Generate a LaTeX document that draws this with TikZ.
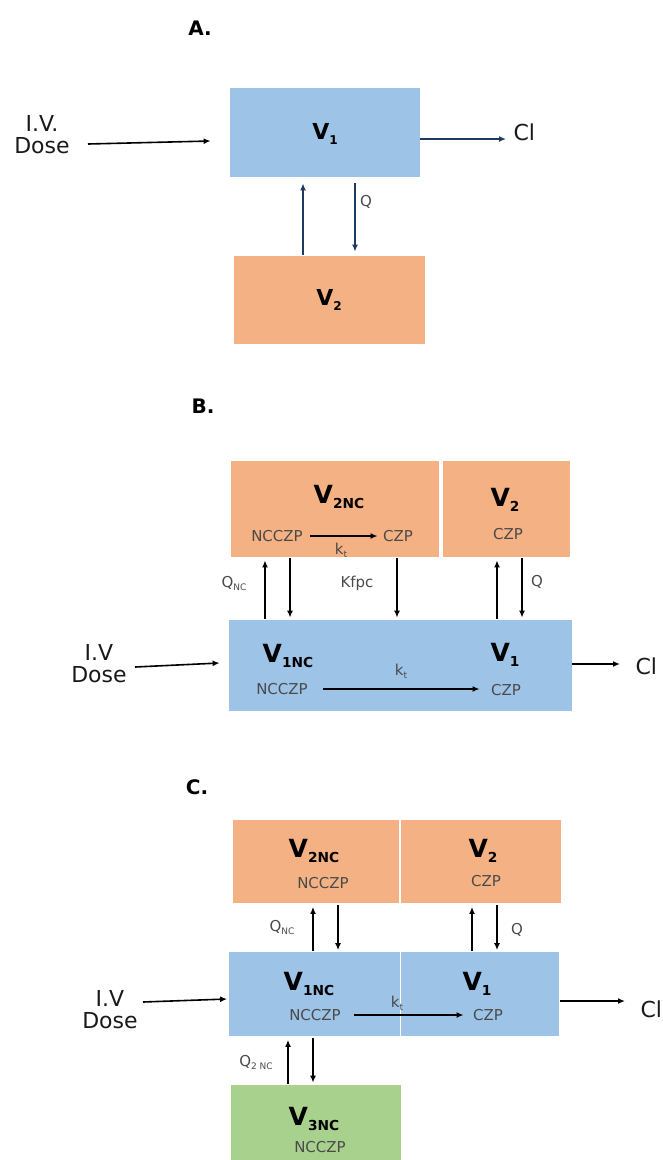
\documentclass[tikz,border=0pt]{standalone}
\usepackage{fontspec}
\setmainfont{DejaVu Sans}
\usetikzlibrary{arrows.meta}
\definecolor{boxblue}{HTML}{9DC3E6}
\definecolor{boxorange}{HTML}{F4B183}
\definecolor{boxgreen}{HTML}{A9D18E}
\definecolor{navy}{HTML}{203864}
\definecolor{inkgray}{HTML}{4A4A4A}
% volume label: bold V with a lowered small index
\newcommand{\vol}[2]{{\fontsize{#1}{#1}\selectfont\bfseries V\raisebox{-0.2em}{\scalebox{0.55}{#2}}}}
\newcommand{\subidx}[1]{\raisebox{-0.2em}{\scalebox{0.6}{#1}}}
\begin{document}
\begin{tikzpicture}[x=1pt,y=-1pt,
  compartment/.style={draw=white,line width=0.8pt,inner sep=0pt},
  panel/.style={font=\fontsize{20}{20}\selectfont\bfseries},
  bigtxt/.style={font=\fontsize{22}{24}\selectfont,text=black!90,align=center},
  smalltxt/.style={font=\fontsize{15}{15}\selectfont,text=inkgray},
  ratetxt/.style={font=\fontsize{15}{15}\selectfont,text=inkgray},
  arrblue/.style={draw=navy,line width=1.6pt,-{Latex[length=7pt,width=6pt]}},
  arrblack/.style={draw=black,line width=1.6pt,-{Latex[length=7pt,width=6pt]}},
]
\useasboundingbox (0,0) rectangle (662,1160);

% ---------------- A: two-compartment model ----------------
\node[panel] (la) at (200,28) {A.};
\node[compartment,fill=boxblue,minimum width=191pt,minimum height=90pt] (a1) at (324.5,132) {};
\node[compartment,fill=boxorange,minimum width=192pt,minimum height=89pt] (a2) at (329,299.5) {};
\node (a1t) at (325,134) {\vol{22}{1}};
\node (a2t) at (329,300) {\vol{22}{2}};
\node[bigtxt] (adose) at (42,135) {I.V.\\[-2pt]Dose};
\coordinate (adoseend) at (88,144);
\draw[arrblack] (adoseend) -- ([xshift=-18pt]a1.west |- 0,141);
\node[bigtxt,anchor=west] (acl) at (510,132) {Cl};
\draw[arrblue] (a1.east |- 0,139) -- ([xshift=-4pt]acl.west |- 0,139);
\draw[arrblue] (a2.north -| 303,0) -- ([yshift=-6pt]a1.south -| 303,0);
\draw[arrblue] ([yshift=-6pt]a1.south -| 355,0) -- ([yshift=3pt]a2.north -| 355,0);
\node[smalltxt] (aq) at (366,202) {Q};

% ---------------- B: parent / metabolite model ----------------
\node[panel] (lb) at (203,406) {B.};
\node[compartment,fill=boxorange,minimum width=209pt,minimum height=97pt] (b2nc) at (335,508.5) {};
\node[compartment,fill=boxorange,minimum width=128pt,minimum height=97pt] (b2) at (506,508.5) {};
\node[compartment,fill=boxblue,minimum width=344pt,minimum height=92pt] (b1) at (400,665) {};

\node (b2nct) at (339,497) {\vol{25}{2NC}};
\node[smalltxt] (bnc2) at (277,536) {NCCZP};
\node[smalltxt] (bcz2) at (398,536) {CZP};
\draw[arrblack] ([xshift=4pt]bnc2.east) -- ([xshift=-2pt]bcz2.west |- bnc2.east);
\node[ratetxt] (bkt2) at (341,550) {k\subidx{t}};
\node (b2t) at (505,500) {\vol{25}{2}};
\node[smalltxt] (bcz2b) at (508,534) {CZP};

\node (b1nct) at (288,656) {\vol{25}{1NC}};
\node[smalltxt] (bnc1) at (282,689) {NCCZP};
\node[smalltxt] (bcz1) at (506,690) {CZP};
\draw[arrblack] ([xshift=12pt]bnc1.east) -- ([xshift=-8pt]bcz1.west |- bnc1.east);
\node[ratetxt] (bkt1) at (401,671) {k\subidx{t}};
\node (b1t) at (505,655) {\vol{25}{1}};

\draw[arrblack] (b1.north -| 265,0) -- ([yshift=-3pt]b2nc.south -| 265,0);
\draw[arrblack] ([yshift=-1pt]b2nc.south -| 290,0) -- ([yshift=1pt]b1.north -| 290,0);
\draw[arrblack] ([yshift=-1pt]b2nc.south -| 397,0) -- ([yshift=1pt]b1.north -| 397,0);
\draw[arrblack] (b1.north -| 497,0) -- ([yshift=-3pt]b2.south -| 497,0);
\draw[arrblack] ([yshift=-1pt]b2.south -| 522,0) -- ([yshift=1pt]b1.north -| 522,0);
\node[ratetxt] (bqnc) at (234,583) {Q\subidx{NC}};
\node[ratetxt] (bkf) at (357,583) {Kfpc};
\node[ratetxt] (bq) at (537,582) {Q};

\node[bigtxt] (bdose) at (99,664) {I.V\\[-2pt]Dose};
\coordinate (bdoseend) at (135,667);
\draw[arrblack] (bdoseend) -- ([xshift=-8pt]b1.west |- 0,663);
\node[bigtxt,anchor=west] (bcl) at (632,666) {Cl};
\draw[arrblack] (b1.east |- 0,664) -- ([xshift=-12pt]bcl.west |- 0,664);

% ---------------- C: three-compartment metabolite model ----------------
\node[panel] (lc) at (197,787) {C.};
\node[compartment,fill=boxorange,minimum width=167pt,minimum height=84pt] (c2nc) at (316,861.5) {};
\node[compartment,fill=boxorange,minimum width=161pt,minimum height=84pt] (c2) at (481,861.5) {};
\node[compartment,fill=boxblue,minimum width=172pt,minimum height=85pt] (c1nc) at (314.5,994) {};
\node[compartment,fill=boxblue,minimum width=159pt,minimum height=85pt] (c1) at (480,994) {};
\node[compartment,fill=boxgreen,minimum width=171pt,minimum height=80pt] (c3nc) at (316,1124) {};

\node (c2nct) at (314,851) {\vol{25}{2NC}};
\node[smalltxt] (cnc2) at (323,883) {NCCZP};
\node (c2t) at (483,851) {\vol{25}{2}};
\node[smalltxt] (ccz2) at (486,881) {CZP};

\node (c1nct) at (309,984) {\vol{25}{1NC}};
\node[smalltxt] (cnc1) at (315,1015) {NCCZP};
\node (c1t) at (477,984) {\vol{25}{1}};
\node[smalltxt] (ccz1) at (488,1015) {CZP};
\draw[arrblack] ([xshift=10pt]cnc1.east) -- ([xshift=-6pt]ccz1.west |- cnc1.east);
\node[ratetxt] (ckt) at (397,1003) {k\subidx{t}};

\node (c3nct) at (314,1119) {\vol{25}{3NC}};
\node[smalltxt] (cnc3) at (320,1147) {NCCZP};

\draw[arrblack] (c1nc.north -| 313,0) -- ([yshift=-3pt]c2nc.south -| 313,0);
\draw[arrblack] ([yshift=-1pt]c2nc.south -| 338,0) -- ([yshift=1pt]c1nc.north -| 338,0);
\draw[arrblack] (c1.north -| 472,0) -- ([yshift=-3pt]c2.south -| 472,0);
\draw[arrblack] ([yshift=-1pt]c2.south -| 497,0) -- ([yshift=1pt]c1.north -| 497,0);
\node[ratetxt] (cqnc) at (282,927) {Q\subidx{NC}};
\node[ratetxt] (cq) at (517,930) {Q};

\draw[arrblack] (c3nc.north -| 288,0) -- ([yshift=-3pt]c1nc.south -| 288,0);
\draw[arrblack] ([yshift=-1pt]c1nc.south -| 313,0) -- ([yshift=1pt]c3nc.north -| 313,0);
\node[ratetxt] (cq2nc) at (256,1062) {Q\subidx{2 NC}};

\node[bigtxt] (cdose) at (110,1010) {I.V\\[-2pt]Dose};
\coordinate (cdoseend) at (143,1002);
\draw[arrblack] (cdoseend) -- ([xshift=-1pt]c1nc.west |- 0,999);
\node[bigtxt,anchor=west] (ccl) at (637,1009) {Cl};
\draw[arrblack] (c1.east |- 0,1001) -- ([xshift=-12pt]ccl.west |- 0,1001);
\end{tikzpicture}
\end{document}
